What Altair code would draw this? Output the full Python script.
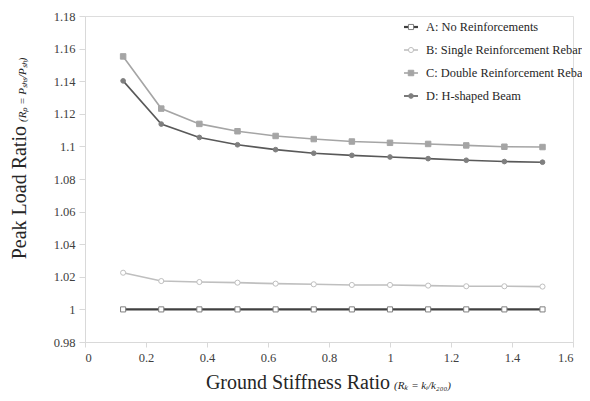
import altair as alt
import pandas as pd

x_vals = [0.125, 0.25, 0.375, 0.5, 0.625, 0.75, 0.875, 1.0, 1.125, 1.25, 1.375, 1.5]
a_vals = [1.0] * 12
b_vals = [1.0225, 1.0174, 1.0168, 1.0164, 1.0158, 1.0154, 1.0150, 1.0150, 1.0146, 1.0142, 1.0142, 1.0140]
c_vals = [1.1552, 1.1232, 1.1138, 1.1093, 1.1064, 1.1045, 1.1030, 1.1022, 1.1015, 1.1006, 1.0998, 1.0996]
d_vals = [1.1402, 1.1137, 1.1055, 1.1010, 1.0980, 1.0958, 1.0945, 1.0935, 1.0925, 1.0915, 1.0907, 1.0903]
series_names = ["A: No Reinforcements", "B: Single Reinforcement Rebar",
                "C: Double Reinforcement Rebar", "D: H-shaped Beam"]
x_ticks = [0, 0.2, 0.4, 0.6, 0.8, 1.0, 1.2, 1.4, 1.6]
y_ticks = [0.98, 1.0, 1.02, 1.04, 1.06, 1.08, 1.1, 1.12, 1.14, 1.16, 1.18]

SERIF = "'Liberation Serif', 'Times New Roman', serif"
W, H = 488, 326

styles = {
    series_names[0]: dict(line="#404040", lw=2.2, shape="square", fill="white", stroke="#7f7f7f", size=26),
    series_names[1]: dict(line="#bfbfbf", lw=1.6, shape="circle", fill="white", stroke="#bfbfbf", size=26),
    series_names[2]: dict(line="#a5a5a5", lw=1.6, shape="square", fill="#a5a5a5", stroke="#a5a5a5", size=30),
    series_names[3]: dict(line="#595959", lw=1.6, shape="circle", fill="#7f7f7f", stroke="#7f7f7f", size=22),
}

rows = []
for name, vals in zip(series_names, [a_vals, b_vals, c_vals, d_vals]):
    for xv, yv in zip(x_vals, vals):
        rows.append({"series": name, "x": xv, "y": yv})
df = pd.DataFrame(rows)

xenc = alt.X("x:Q", scale=alt.Scale(domain=[0, 1.6], nice=False),
             axis=alt.Axis(values=x_ticks, format="~g", title=None, grid=False,
                           domainColor="#d9d9d9", tickColor="#d9d9d9", tickSize=5,
                           labelColor="#404040", labelFont=SERIF, labelFontSize=12.5,
                           labelPadding=4))
yenc = alt.Y("y:Q", scale=alt.Scale(domain=[0.98, 1.18], nice=False, zero=False),
             axis=alt.Axis(values=y_ticks, format="~g", title=None, grid=False,
                           domainColor="#d9d9d9", tickColor="#d9d9d9", tickSize=6,
                           labelColor="#404040", labelFont=SERIF, labelFontSize=12.5,
                           labelPadding=4))

layers = []
for name in series_names:
    s = styles[name]
    sub = df[df["series"] == name]
    base = alt.Chart(sub)
    layers.append(base.mark_line(color=s["line"], strokeWidth=s["lw"]).encode(x=xenc, y=yenc))
    layers.append(base.mark_point(shape=s["shape"], filled=True, fill=s["fill"], stroke=s["stroke"],
                                  strokeWidth=1, size=s["size"], opacity=1).encode(x=xenc, y=yenc))

# legend (drawn manually)
leg_y = [27, 50, 73, 96]
for i, name in enumerate(series_names):
    s = styles[name]
    one = alt.Chart(pd.DataFrame({"t": [name]}))
    layers.append(one.mark_rule(color=s["line"], strokeWidth=s["lw"]).encode(
        x=alt.value(404 - 85), x2=alt.value(418 - 85), y=alt.value(leg_y[i] - 16)))
    layers.append(one.mark_point(shape=s["shape"], filled=True, fill=s["fill"], stroke=s["stroke"],
                                 strokeWidth=1, size=s["size"], opacity=1).encode(
        x=alt.value(411 - 85), y=alt.value(leg_y[i] - 16)))
    layers.append(one.mark_text(align="left", baseline="middle", font=SERIF, fontSize=12.4,
                                color="#262626").encode(
        x=alt.value(426 - 85), y=alt.value(leg_y[i] - 16), text="t:N"))

xt_main = "Ground Stiffness Ratio"
xt_sub = "(Rₖ = kᵢ/k₂₀₀)"
yt_main = "Peak Load Ratio"
yt_sub = "(Rₚ = Pₛₕₛ/Pₛₕ)"

t1 = alt.Chart(pd.DataFrame({"t": [xt_main]})).mark_text(
    align="right", baseline="alphabetic", font=SERIF, fontSize=20, color="#262626").encode(
    x=alt.value(390 - 85), y=alt.value(389 - 16), text="t:N")
t2 = alt.Chart(pd.DataFrame({"t": [xt_sub]})).mark_text(
    align="left", baseline="alphabetic", font=SERIF, fontSize=11, fontStyle="italic",
    color="#262626").encode(
    x=alt.value(394 - 85), y=alt.value(389 - 16), text="t:N")
t3 = alt.Chart(pd.DataFrame({"t": [yt_main]})).mark_text(
    align="right", baseline="alphabetic", font=SERIF, fontSize=20, angle=270,
    color="#262626").encode(
    x=alt.value(26 - 85), y=alt.value(126 - 16), text="t:N")
t4 = alt.Chart(pd.DataFrame({"t": [yt_sub]})).mark_text(
    align="left", baseline="alphabetic", font=SERIF, fontSize=11, fontStyle="italic", angle=270,
    color="#262626").encode(
    x=alt.value(26 - 85), y=alt.value(122 - 16), text="t:N")
layers += [t1, t2, t3, t4]

chart = alt.layer(*layers).properties(
    width=W, height=H,
    autosize=alt.AutoSizeParams(type="none"),
    padding={"left": 77, "top": 8, "right": 9, "bottom": 50},
).configure_view(stroke=None).configure(background="white")

chart.save("out.html", embed_options={"renderer": "svg", "actions": False})
